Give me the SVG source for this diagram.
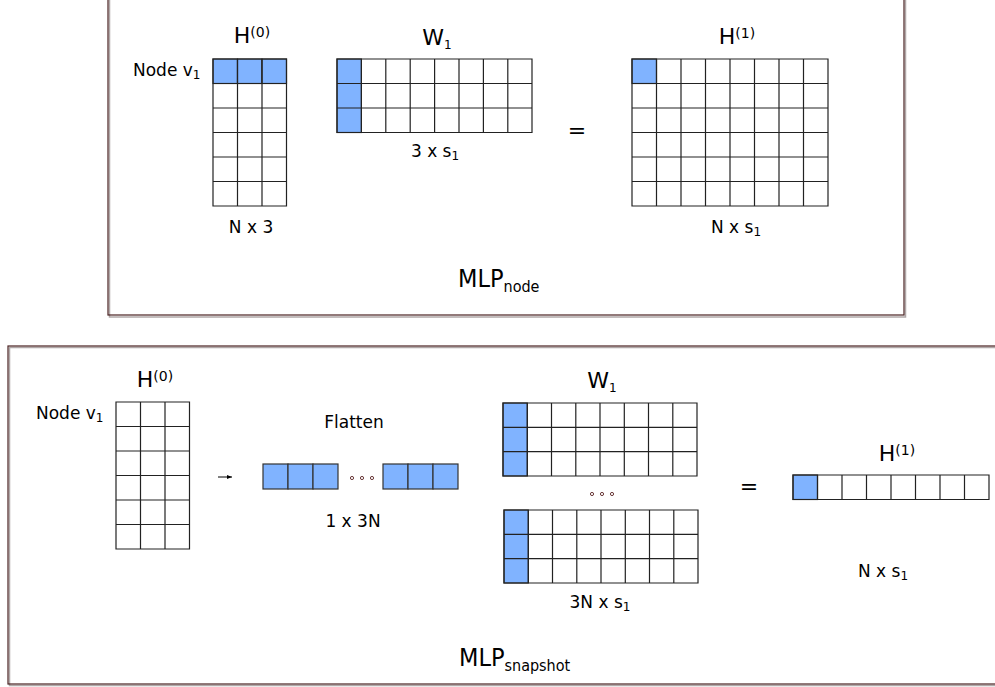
<svg xmlns="http://www.w3.org/2000/svg" width="995" height="687" viewBox="0 0 995 687">
<style>
text{font-family:"DejaVu Sans","Verdana",sans-serif;fill:#000}
.big{font-size:22px}
.lab{font-size:17px}
.sup{font-size:14px}
.sub{font-size:12px}
.mlp{font-family:"Liberation Sans Narrow","DejaVu Sans Condensed","Liberation Sans",sans-serif;font-size:25px}
.mlpsub{font-family:"Liberation Sans Narrow","DejaVu Sans Condensed","Liberation Sans",sans-serif;font-size:16px}
.grid{fill:none;stroke:#222;stroke-width:1.2}
.blue{fill:#80b3ff;stroke:#333;stroke-width:1.2}
.frame{fill:none;stroke:#4a2222;stroke-width:1.2}
.shadow{fill:none;stroke:#b0a8a8;stroke-width:1.5}
.dot{fill:none;stroke:#6b3a3a;stroke-width:1}
</style>
<defs>
<marker id="ah" markerWidth="6" markerHeight="6" refX="5" refY="3" orient="auto" markerUnits="userSpaceOnUse">
<path d="M0,1 L5,3 L0,5 Z" fill="#000"/>
</marker>
</defs>
<rect width="995" height="687" fill="#fff"/>

<g id="frame-node">
<rect class="shadow" x="109.5" y="-5" width="796" height="322"/>
<rect class="frame" x="108" y="-5" width="796" height="320"/>
</g>
<g id="frame-snapshot">
<rect class="shadow" x="9.5" y="347.5" width="1000" height="338"/>
<rect class="frame" x="8" y="346" width="1000" height="338"/>
</g>

<!-- TOP: MLP_node -->
<g id="top-H0">
<text class="big" x="252" y="43" text-anchor="middle">H<tspan class="sup" dy="-6">(0)</tspan></text>
<text class="lab" x="133" y="76">Node v<tspan class="sub" dy="3">1</tspan></text>
<rect class="blue" x="213" y="59" width="24.5" height="24.5"/>
<rect class="blue" x="237.5" y="59" width="24.5" height="24.5"/>
<rect class="blue" x="262" y="59" width="24.5" height="24.5"/>
<path class="grid" d="M213,59H286.5V206H213Z M237.5,59V206 M262,59V206 M213,83.5H286.5 M213,108H286.5 M213,132.5H286.5 M213,157H286.5 M213,181.5H286.5"/>
<text class="lab" x="251" y="233" text-anchor="middle">N x 3</text>
</g>

<g id="top-W1">
<text class="big" x="437" y="45" text-anchor="middle">W<tspan class="sub" dy="4">1</tspan></text>
<rect class="blue" x="337" y="59" width="24.4" height="73.5"/>
<path class="grid" d="M337,59H532V132.5H337Z M361.4,59V132.5 M385.8,59V132.5 M410.2,59V132.5 M434.6,59V132.5 M459,59V132.5 M483.4,59V132.5 M507.8,59V132.5 M337,83.5H532 M337,108H532"/>
<text class="lab" x="435" y="157" text-anchor="middle">3 x s<tspan class="sub" dy="3">1</tspan></text>
</g>

<g id="top-eq">
<text class="big" x="577" y="138" text-anchor="middle">=</text>
</g>

<g id="top-H1">
<text class="big" x="737" y="44" text-anchor="middle">H<tspan class="sup" dy="-6">(1)</tspan></text>
<rect class="blue" x="632" y="59" width="24.5" height="24.5"/>
<path class="grid" d="M632,59H828V206H632Z M656.5,59V206 M681,59V206 M705.5,59V206 M730,59V206 M754.5,59V206 M779,59V206 M803.5,59V206 M632,83.5H828 M632,108H828 M632,132.5H828 M632,157H828 M632,181.5H828"/>
<text class="lab" x="736" y="233" text-anchor="middle">N x s<tspan class="sub" dy="3">1</tspan></text>
</g>

<g id="label-node">
<text class="mlp" x="458" y="287">MLP<tspan class="mlpsub" dy="5">node</tspan></text>
</g>

<!-- BOTTOM: MLP_snapshot -->
<g id="bot-H0">
<text class="big" x="155" y="387" text-anchor="middle">H<tspan class="sup" dy="-6">(0)</tspan></text>
<text class="lab" x="36" y="419">Node v<tspan class="sub" dy="3">1</tspan></text>
<path class="grid" d="M116,402H189.5V549H116Z M140.5,402V549 M165,402V549 M116,426.5H189.5 M116,451H189.5 M116,475.5H189.5 M116,500H189.5 M116,524.5H189.5"/>
</g>

<g id="connectors">
<line x1="218" y1="477" x2="232" y2="477" stroke="#000" stroke-width="1" marker-end="url(#ah)"/>
</g>

<g id="flatten">
<text class="lab" x="354" y="428" text-anchor="middle">Flatten</text>
<rect class="blue" x="263" y="464" width="25" height="25"/>
<rect class="blue" x="288" y="464" width="25" height="25"/>
<rect class="blue" x="313" y="464" width="25" height="25"/>
<circle class="dot" cx="352" cy="478" r="1.6"/>
<circle class="dot" cx="362" cy="478" r="1.6"/>
<circle class="dot" cx="372" cy="478" r="1.6"/>
<rect class="blue" x="383" y="464" width="25" height="25"/>
<rect class="blue" x="408" y="464" width="25" height="25"/>
<rect class="blue" x="433" y="464" width="25" height="25"/>
<text class="lab" x="353" y="527" text-anchor="middle">1 x 3N</text>
</g>

<g id="bot-W1">
<text class="big" x="602" y="388" text-anchor="middle">W<tspan class="sub" dy="4">1</tspan></text>
<rect class="blue" x="503" y="403" width="24.3" height="73"/>
<path class="grid" d="M503,403H697V476H503Z M527.3,403V476 M551.5,403V476 M575.8,403V476 M600,403V476 M624.3,403V476 M648.5,403V476 M672.8,403V476 M503,427.3H697 M503,451.7H697"/>
<circle class="dot" cx="592" cy="494" r="1.6"/>
<circle class="dot" cx="602" cy="494" r="1.6"/>
<circle class="dot" cx="612" cy="494" r="1.6"/>
<rect class="blue" x="504" y="510" width="24.3" height="73"/>
<path class="grid" d="M504,510H698V583H504Z M528.3,510V583 M552.5,510V583 M576.8,510V583 M601,510V583 M625.3,510V583 M649.5,510V583 M673.8,510V583 M504,534.3H698 M504,558.7H698"/>
<text class="lab" x="600" y="608" text-anchor="middle">3N x s<tspan class="sub" dy="3">1</tspan></text>
</g>

<g id="bot-eq">
<text class="big" x="749" y="494" text-anchor="middle">=</text>
</g>

<g id="bot-H1">
<text class="big" x="897" y="461" text-anchor="middle">H<tspan class="sup" dy="-6">(1)</tspan></text>
<rect class="blue" x="793" y="475" width="24.5" height="24.5"/>
<path class="grid" d="M793,475H989V499.5H793Z M817.5,475V499.5 M842,475V499.5 M866.5,475V499.5 M891,475V499.5 M915.5,475V499.5 M940,475V499.5 M964.5,475V499.5"/>
<text class="lab" x="883" y="577" text-anchor="middle">N x s<tspan class="sub" dy="3">1</tspan></text>
</g>

<g id="label-snapshot">
<text class="mlp" x="459" y="666">MLP<tspan class="mlpsub" dy="5">snapshot</tspan></text>
</g>
</svg>
